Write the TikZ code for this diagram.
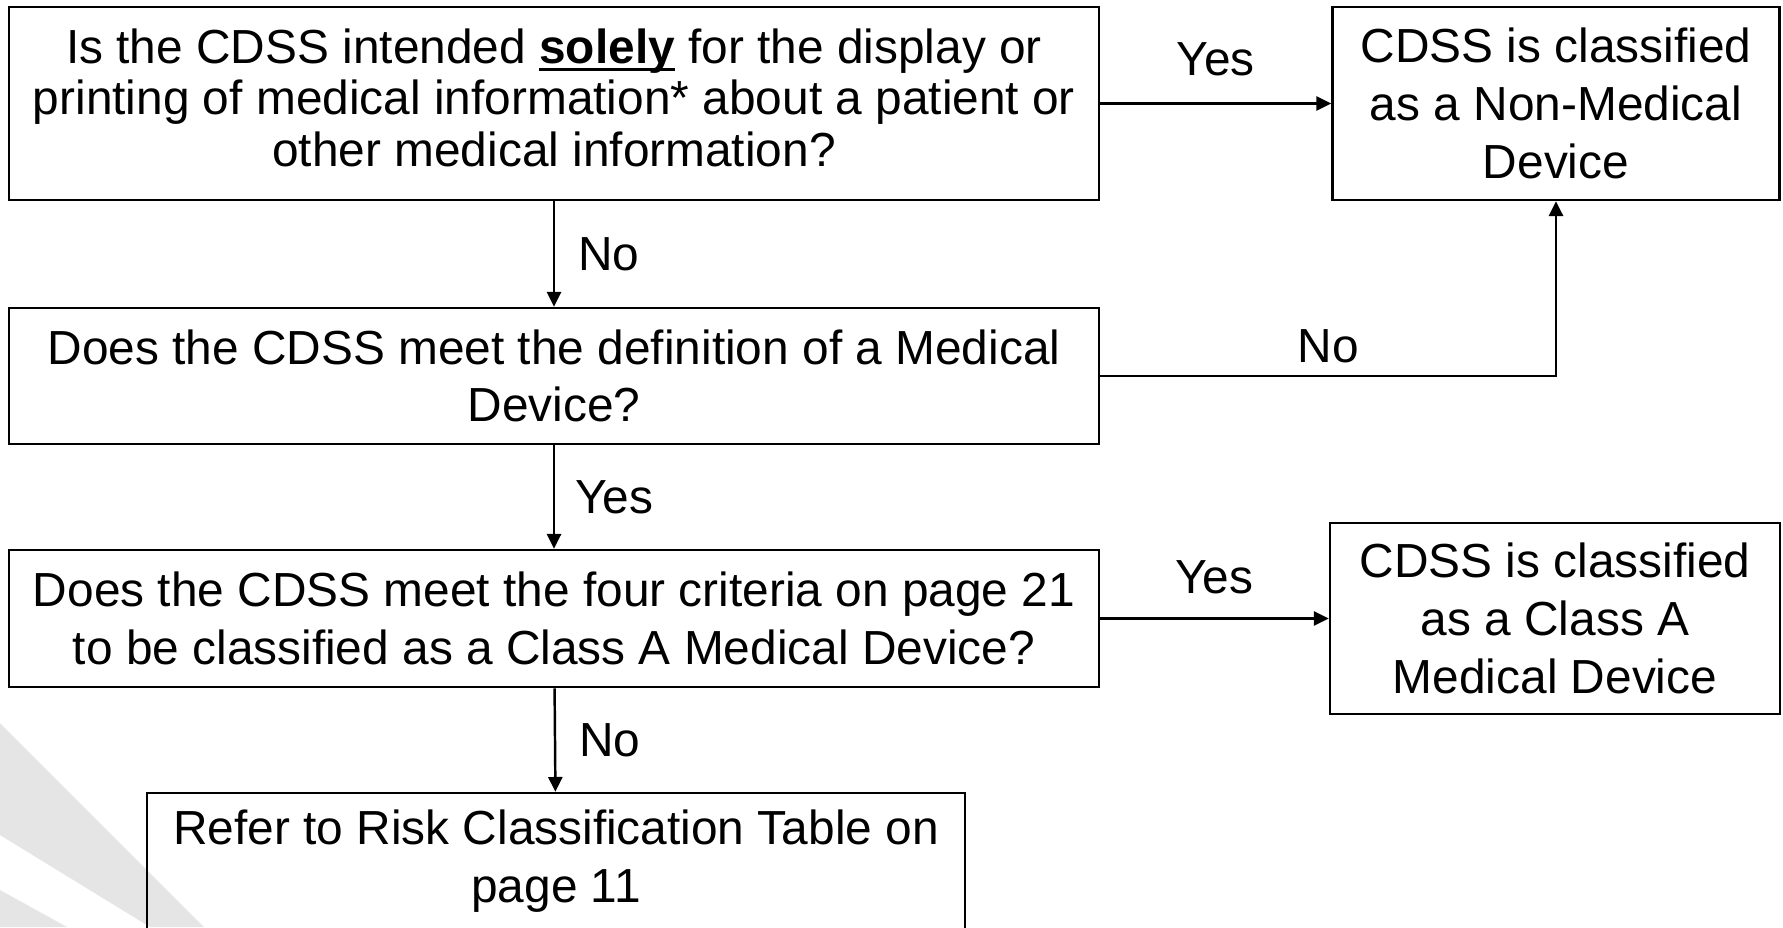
\documentclass[tikz,border=0pt]{standalone}
\usepackage{fontspec}
\setmainfont{Liberation Sans}
\usetikzlibrary{positioning, arrows.meta}

\newcommand{\thickul}[1]{\setbox0\hbox{#1}\rlap{\rule[-2.2pt]{\wd0}{0.9pt}}\box0\relax}

\begin{document}
\begin{tikzpicture}[
  x=0.01cm, y=-0.01cm,
  box/.style={draw, line width=0.7pt, align=center, inner sep=0pt,
              font=\fontsize{13.6}{16.4}\selectfont},
  lbl/.style={inner sep=0pt, font=\fontsize{13.6}{16.4}\selectfont},
  arr/.style={-{Triangle[length=4.2pt,width=4pt]}, line width=0.7pt},
  fan/.style={fill=black!10, draw=none}
]
\useasboundingbox[fill=white] (0,0) rectangle (1783,927);

% faint wedges in the lower left corner
\fill[fan] (0,723) -- (204,927) -- (150,927) -- (0,835) -- cycle;
\fill[fan] (0,890) -- (67,927) -- (0,927) -- cycle;

\node[box, font=\fontsize{13.6}{14.6}\selectfont, text depth=1.2mm,
      minimum width=10.89cm, minimum height=1.93cm] (q1) at (554,103.5)
  {Is the CDSS intended \thickul{\textbf{solely}} for the display or\\
   printing of medical information* about a patient or\\
   other medical information?};
\node[box, minimum width=4.47cm, minimum height=1.93cm] (nonmed) at (1556,103.5)
  {CDSS is classified\\ as a Non-Medical\\ Device};

\node[box, minimum width=10.89cm, minimum height=1.36cm] (q2) at (554,376)
  {Does the CDSS meet the definition of a Medical\\ Device?};

\node[box, minimum width=10.89cm, minimum height=1.37cm] (q3) at (554,618.5)
  {Does the CDSS meet the four criteria on page 21\\
   to be classified as a Class A Medical Device?};
\node[box, minimum width=4.50cm, minimum height=1.91cm] (classa) at (1555,618.5)
  {CDSS is classified\\ as a Class A\\ Medical Device};

\node[box, minimum width=8.17cm, minimum height=1.36cm] (risk) at (556,861)
  {Refer to Risk Classification Table on\\ page 11};

\draw[arr] (q1) -- node[lbl, above=2.6mm] (y1) {Yes} (nonmed);
\draw[arr] (q1) -- node[lbl, right=2.3mm] (n1) {No} (q2);
\draw[arr] (q2.east) -| node[lbl, pos=0.25, above=1.2mm] (n2) {No} (nonmed.south);
\draw[arr] (q2) -- node[lbl, right=2.0mm] (y2) {Yes} (q3);
\draw[arr] (q3) -- node[lbl, above=2.3mm] (y3) {Yes} (classa);
\draw[arr] (q3) -- node[lbl, right=2.3mm] (n3) {No} (risk);
\end{tikzpicture}
\end{document}
